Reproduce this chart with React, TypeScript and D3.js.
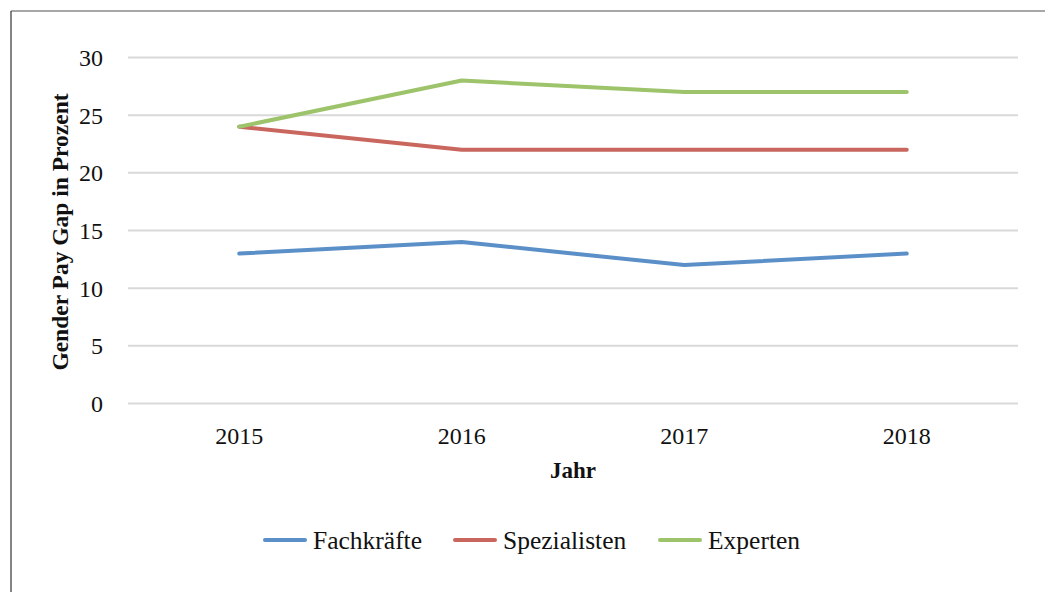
import React from "react";
import { scaleBand, scaleLinear, line } from "d3";

const years = ["2015", "2016", "2017", "2018"];
const fachkraefte = [13, 14, 12, 13];
const spezialisten = [24, 22, 22, 22];
const experten = [24, 28, 27, 27];
const yTicks = [0, 5, 10, 15, 20, 25, 30];

const series = [
  { name: "Fachkräfte", values: fachkraefte, color: "#5b8fc8" },
  { name: "Spezialisten", values: spezialisten, color: "#c9675f" },
  { name: "Experten", values: experten, color: "#9dc36b" },
];

const W = 1045;
const H = 592;
const font = "'Liberation Serif', 'Times New Roman', serif";

export default function App() {
  const x = scaleBand<string>().domain(years).range([128, 1018]);
  const y = scaleLinear().domain([0, 30]).range([403.5, 57.5]);

  const path = line<number>()
    .x((_, i) => (x(years[i]) as number) + x.bandwidth() / 2)
    .y((d) => y(d));

  const legendX = [265, 455, 660];

  return (
    <div style={{ position: "fixed", left: 0, top: 0 }}>
      <svg width={W} height={H} style={{ display: "block", background: "#fff" }}>
        <line x1={11} y1={11} x2={W} y2={11} stroke="#8a8a8a" strokeWidth={1.5} />
        <line x1={11} y1={11} x2={11} y2={H} stroke="#333" strokeWidth={1.2} />

        {yTicks.map((t) => (
          <g key={t}>
            <line x1={128} x2={1018} y1={y(t)} y2={y(t)} stroke="#d9d9d9" strokeWidth={2} />
            <text x={103} y={y(t)} dy="0.35em" textAnchor="end" fontFamily={font} fontSize={24} fill="#111">
              {t}
            </text>
          </g>
        ))}

        {years.map((yr) => (
          <text
            key={yr}
            x={(x(yr) as number) + x.bandwidth() / 2}
            y={444}
            textAnchor="middle"
            fontFamily={font}
            fontSize={24}
            fill="#111"
          >
            {yr}
          </text>
        ))}

        {series.map((s) => (
          <path
            key={s.name}
            d={path(s.values) || ""}
            fill="none"
            stroke={s.color}
            strokeWidth={4}
            strokeLinecap="round"
            strokeLinejoin="round"
          />
        ))}

        <text x={573} y={478} textAnchor="middle" fontFamily={font} fontSize={23} fontWeight="bold" fill="#111">
          Jahr
        </text>
        <text
          transform={`translate(68, 232) rotate(-90)`}
          textAnchor="middle"
          fontFamily={font}
          fontSize={23.5}
          fontWeight="bold"
          fill="#111"
        >
          Gender Pay Gap in Prozent
        </text>

        {series.map((s, i) => (
          <g key={s.name} transform={`translate(${legendX[i]}, 540)`}>
            <line x1={0} x2={40} y1={0} y2={0} stroke={s.color} strokeWidth={4} strokeLinecap="round" />
            <text x={48} y={0} dy="0.35em" fontFamily={font} fontSize={25.5} fill="#111">
              {s.name}
            </text>
          </g>
        ))}
      </svg>
    </div>
  );
}
